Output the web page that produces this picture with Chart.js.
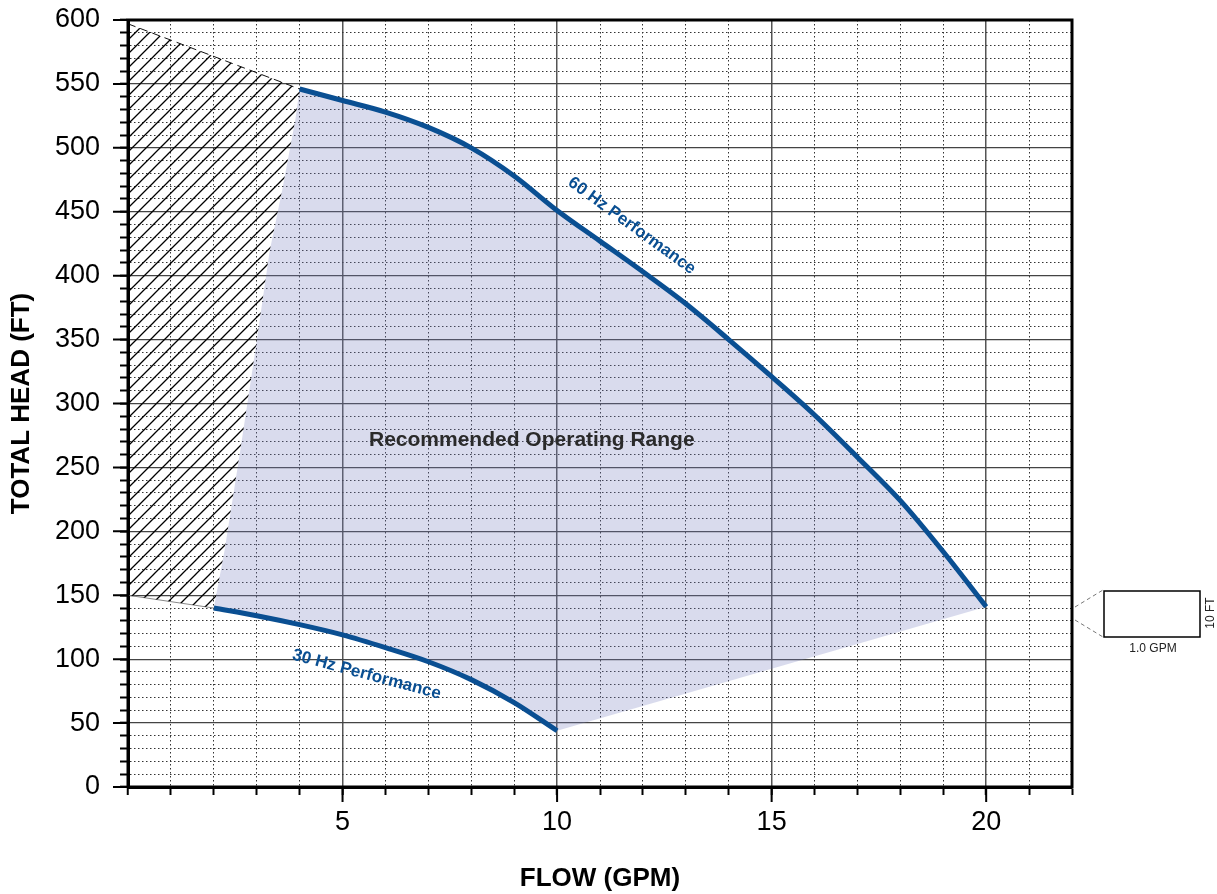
<!DOCTYPE html>
<html>
<head>
<meta charset="utf-8">
<script src="https://cdn.jsdelivr.net/npm/chart.js@4.4.1/dist/chart.umd.min.js"></script>
<style>
  html, body { margin: 0; padding: 0; background: #fff; }
  #wrap { width: 1217px; height: 894px; }
</style>
</head>
<body>
<div id="wrap"><canvas id="pumpChart" width="1217" height="894"></canvas></div>
<script>
// Pump curve values
const flow60 = [4, 5, 6, 7, 8, 9, 10, 11, 12, 13, 14, 15, 16, 17, 18, 19, 20];
const head60 = [546, 537, 528, 516, 500, 478, 451, 427, 403, 378, 350, 321, 291, 258, 224, 184, 141];

const flow30 = [2, 3, 4, 5, 6, 7, 8, 9, 10];
const head30 = [140, 134, 127, 119, 109, 98, 84, 66, 44];

// left edge of the recommended range (bottom to top)
const edgeFlow = [2, 2.25, 2.62, 2.97, 3.3, 3.6, 3.9, 4];
const edgeHead = [140, 185, 264, 342, 419, 468, 522, 546];

// hatched "do not operate" zone corners at the axis
const hatchTop = [0, 597];
const hatchBottom = [0, 150];

const xTickLabels = [5, 10, 15, 20];
const yTickLabels = [0, 50, 100, 150, 200, 250, 300, 350, 400, 450, 500, 550, 600];

const blue = "#0a4f92";
const font = "'Liberation Sans', Arial, Helvetica, sans-serif";

function pts(xs, ys) {
  return xs.map((x, i) => ({ x: x, y: ys[i] }));
}

// recommended range outline: 60 Hz curve, straight edge down to 30 Hz end, 30 Hz back, left edge up
const rangeShape = []
  .concat(pts(flow60, head60))
  .concat(pts(flow30, head30).reverse())
  .concat(pts(edgeFlow, edgeHead).slice(1));

// hatched zone outline
const hatchShape = [{ x: hatchTop[0], y: hatchTop[1] }]
  .concat(pts(edgeFlow, edgeHead).reverse())
  .concat([{ x: hatchBottom[0], y: hatchBottom[1] }]);

// diagonal hatch pattern
function makeHatch() {
  const c = document.createElement("canvas");
  c.width = 14;
  c.height = 14;
  const p = c.getContext("2d");
  p.strokeStyle = "#000";
  p.lineWidth = 1.3;
  p.beginPath();
  p.moveTo(0, 14); p.lineTo(14, 0);
  p.moveTo(-7, 7); p.lineTo(7, -7);
  p.moveTo(7, 21); p.lineTo(21, 7);
  p.stroke();
  return p.createPattern(c, "repeat");
}

// frame, long ticks, labels and the scale box
const extrasPlugin = {
  id: "extras",
  afterDraw(chart) {
    const { ctx, chartArea: a, scales } = chart;
    const xs = scales.x, ys = scales.y;
    ctx.save();

    // longer major ticks
    ctx.strokeStyle = "#000";
    ctx.lineWidth = 2;
    ctx.beginPath();
    for (let v = 5; v <= 20; v += 5) {
      const px = xs.getPixelForValue(v);
      ctx.moveTo(px, a.bottom);
      ctx.lineTo(px, a.bottom + 15);
    }
    for (let v = 0; v <= 600; v += 50) {
      const py = ys.getPixelForValue(v);
      ctx.moveTo(a.left, py);
      ctx.lineTo(a.left - 15, py);
    }
    ctx.stroke();

    // plot frame
    ctx.lineWidth = 3;
    ctx.strokeRect(a.left, a.top, a.right - a.left, a.bottom - a.top);

    // curve labels
    ctx.fillStyle = blue;
    ctx.font = "bold 17px " + font;
    ctx.textAlign = "center";
    ctx.textBaseline = "middle";
    ctx.save();
    ctx.translate(xs.getPixelForValue(11.74), ys.getPixelForValue(439));
    ctx.rotate(36 * Math.PI / 180);
    ctx.fillText("60 Hz Performance", 0, 0);
    ctx.restore();
    ctx.save();
    ctx.translate(xs.getPixelForValue(5.56), ys.getPixelForValue(88));
    ctx.rotate(15 * Math.PI / 180);
    ctx.fillText("30 Hz Performance", 0, 0);
    ctx.restore();

    ctx.fillStyle = "#2a2a2a";
    ctx.font = "bold 21px " + font;
    ctx.fillText("Recommended Operating Range", xs.getPixelForValue(9.41), ys.getPixelForValue(271));

    // grid cell scale box
    ctx.strokeStyle = "#777";
    ctx.lineWidth = 1;
    ctx.setLineDash([4, 3]);
    ctx.beginPath();
    ctx.moveTo(1075, 607); ctx.lineTo(1103, 590);
    ctx.moveTo(1075, 620); ctx.lineTo(1103, 637);
    ctx.stroke();
    ctx.setLineDash([]);
    ctx.strokeStyle = "#000";
    ctx.lineWidth = 1.5;
    ctx.strokeRect(1104, 591, 96, 46);
    ctx.fillStyle = "#222";
    ctx.font = "12px " + font;
    ctx.fillText("1.0 GPM", 1153, 649);
    ctx.save();
    ctx.translate(1211, 613);
    ctx.rotate(-Math.PI / 2);
    ctx.fillText("10 FT", 0, 0);
    ctx.restore();

    ctx.restore();
  },
};

const ctx = document.getElementById("pumpChart").getContext("2d");

const pumpChart = new Chart(ctx, {
  type: "line",
  data: {
    datasets: [
      {
        label: "60 Hz Performance",
        data: pts(flow60, head60),
        borderColor: blue,
        borderWidth: 5,
        pointRadius: 0,
        cubicInterpolationMode: "monotone",
        fill: false,
        order: 0,
      },
      {
        label: "30 Hz Performance",
        data: pts(flow30, head30),
        borderColor: blue,
        borderWidth: 5,
        pointRadius: 0,
        cubicInterpolationMode: "monotone",
        fill: false,
        order: 1,
      },
      {
        label: "Recommended Operating Range",
        data: rangeShape,
        borderWidth: 0,
        borderColor: "rgba(0,0,0,0)",
        backgroundColor: "rgba(120, 125, 190, 0.28)",
        pointRadius: 0,
        fill: "shape",
        order: 2,
      },
      {
        label: "hatch",
        data: hatchShape,
        borderWidth: 0,
        borderColor: "rgba(0,0,0,0)",
        backgroundColor: makeHatch(),
        pointRadius: 0,
        fill: "shape",
        order: 3,
      },
      {
        label: "hatch top",
        data: [{ x: hatchTop[0], y: hatchTop[1] }, { x: edgeFlow[edgeFlow.length - 1], y: edgeHead[edgeHead.length - 1] }],
        borderColor: "#111",
        borderWidth: 1,
        borderDash: [8, 5],
        pointRadius: 0,
        fill: false,
        order: 4,
      },
      {
        label: "hatch bottom",
        data: [{ x: hatchBottom[0], y: hatchBottom[1] }, { x: edgeFlow[0], y: edgeHead[0] }],
        borderColor: "#888",
        borderWidth: 1,
        pointRadius: 0,
        fill: false,
        order: 5,
      },
    ],
  },
  options: {
    responsive: false,
    animation: false,
    layout: { padding: { left: 0, top: 20, right: 145, bottom: 0 } },
    plugins: {
      legend: { display: false },
      tooltip: { enabled: false },
    },
    scales: {
      x: {
        type: "linear",
        min: 0,
        max: 22,
        afterFit: (s) => {
          s.height = 107;
          s.paddingLeft = 0;
          s.paddingRight = 0;
        },
        ticks: {
          stepSize: 1,
          autoSkip: false,
          maxRotation: 0,
          padding: 11,
          color: "#000",
          font: { size: 27, family: font },
          callback: (v) => (xTickLabels.includes(v) ? String(v) : ""),
        },
        grid: {
          color: (c) => (c.tick && c.tick.value % 5 === 0 ? "#555" : "#333"),
          lineWidth: (c) => (c.tick && c.tick.value % 5 === 0 ? 1.5 : 1),
          tickLength: 8,
          tickColor: "#000",
          tickWidth: 2,
        },
        border: {
          display: true,
          color: "#000",
          width: 3,
          dash: (c) => (c.tick && c.tick.value % 5 === 0 ? [] : [1.5, 2.5]),
        },
        title: {
          display: true,
          text: "FLOW (GPM)",
          color: "#000",
          font: { size: 26, weight: "bold", family: font },
          padding: { top: 0, bottom: 0 },
        },
      },
      y: {
        type: "linear",
        min: 0,
        max: 600,
        afterFit: (s) => {
          s.width = 128;
          s.paddingTop = 0;
          s.paddingBottom = 0;
        },
        ticks: {
          stepSize: 10,
          autoSkip: false,
          padding: 20,
          color: "#000",
          font: { size: 27, family: font },
          callback: (v) => (yTickLabels.includes(v) ? String(v) : ""),
        },
        grid: {
          color: (c) => (c.tick && c.tick.value % 50 === 0 ? "#444" : "#333"),
          lineWidth: (c) => (c.tick && c.tick.value % 50 === 0 ? 1.3 : 1),
          tickLength: 8,
          tickColor: "#000",
          tickWidth: 2,
        },
        border: {
          display: true,
          color: "#000",
          width: 3,
          dash: (c) => (c.tick && c.tick.value % 50 === 0 ? [] : [1.5, 2.5]),
        },
        title: {
          display: true,
          text: "TOTAL HEAD (FT)",
          color: "#000",
          font: { size: 26, weight: "bold", family: font },
          padding: { top: 6, bottom: 0 },
        },
      },
    },
  },
  plugins: [extrasPlugin],
});
</script>
</body>
</html>
